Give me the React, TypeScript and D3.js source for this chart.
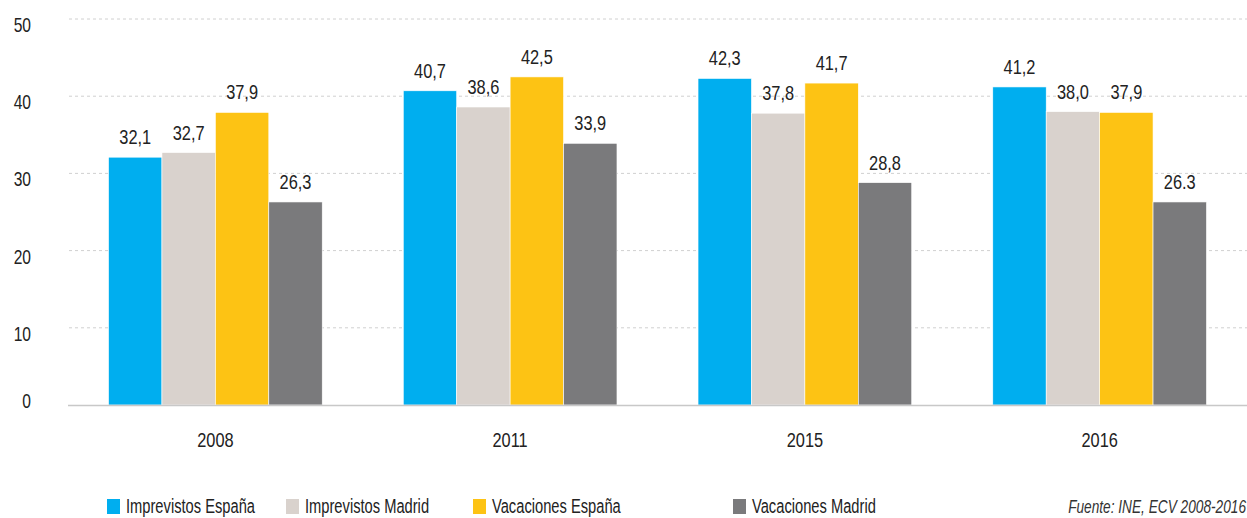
import React from 'react';
import * as d3 from 'd3';

const years = ['2008', '2011', '2015', '2016'];
const seriesNames = ['Imprevistos España', 'Imprevistos Madrid', 'Vacaciones España', 'Vacaciones Madrid'];
const seriesColors = ['#00AEEF', '#D9D2CD', '#FDC314', '#7A7A7C'];
const imprevistosEspana = [32.1, 40.7, 42.3, 41.2];
const imprevistosMadrid = [32.7, 38.6, 37.8, 38.0];
const vacacionesEspana = [37.9, 42.5, 41.7, 37.9];
const vacacionesMadrid = [26.3, 33.9, 28.8, 26.3];
// labels as printed in the source (note the last one uses a dot)
const valueLabels = [
  ['32,1', '40,7', '42,3', '41,2'],
  ['32,7', '38,6', '37,8', '38,0'],
  ['37,9', '42,5', '41,7', '37,9'],
  ['26,3', '33,9', '28,8', '26.3'],
];
const yTicks = [0, 10, 20, 30, 40, 50];
const source = 'Fuente: INE, ECV 2008-2016';

const W = 1247;
const H = 518;
const FONT = '"Liberation Sans", Arial, sans-serif';

// condensed text helper: squeeze Liberation Sans horizontally
function T({ x, y, anchor = 'start', size = 21, sx = 0.78, italic = false, fill = '#222', children }:
  { x: number; y: number; anchor?: string; size?: number; sx?: number; italic?: boolean; fill?: string; children: React.ReactNode }) {
  return (
    <text transform={`translate(${x},${y}) scale(${sx},1)`} textAnchor={anchor}
      fontSize={size} fontStyle={italic ? 'italic' : 'normal'} fill={fill}>{children}</text>
  );
}

export default function App() {
  const series = [imprevistosEspana, imprevistosMadrid, vacacionesEspana, vacacionesMadrid];
  const left = 68;
  const right = W;

  const x = d3.scaleBand<string>()
    .domain(years)
    .range([left, right])
    .paddingInner(0.275)
    .paddingOuter(0.1375);

  const xs = d3.scaleBand<number>()
    .domain(d3.range(series.length))
    .range([0, x.bandwidth()]);

  const y = d3.scaleLinear().domain([0, 50]).range([405, 19]);

  const legendX = [107, 286, 473, 733];

  return (
    <svg width={W} height={H} style={{ position: 'absolute', left: 0, top: 0, background: '#fff' }}
      fontFamily={FONT}>
      {/* gridlines */}
      {yTicks.filter(t => t > 0).map(t => (
        <line key={t} x1={left + 1} x2={right} y1={y(t)} y2={y(t)}
          stroke="#d0d0d0" strokeWidth={1} strokeDasharray="3,3" />
      ))}
      {/* y tick labels */}
      {yTicks.map(t => (
        <T key={t} x={31} y={y(t) + (t === 0 ? 3 : 13)} anchor="end" size={20}>{t}</T>
      ))}
      {/* bars */}
      {series.map((vals, si) => (
        <g key={si}>
          {vals.map((v, yi) => (
            <rect key={yi}
              x={x(years[yi])! + xs(si)!}
              y={y(v)}
              width={xs.bandwidth()}
              height={y(0) - y(v)}
              fill={seriesColors[si]}
              stroke="#fff" strokeWidth={0.6} />
          ))}
        </g>
      ))}
      {/* value labels */}
      {series.map((vals, si) => (
        <g key={'l' + si}>
          {vals.map((v, yi) => (
            <T key={yi}
              x={x(years[yi])! + xs(si)! + xs.bandwidth() / 2}
              y={y(v) - 13}
              anchor="middle">{valueLabels[si][yi]}</T>
          ))}
        </g>
      ))}
      {/* baseline */}
      <line x1={left} x2={right} y1={y(0) + 0.5} y2={y(0) + 0.5} stroke="#c8c8c8" strokeWidth={1.5} />
      {/* x labels */}
      {years.map(yr => (
        <T key={yr} x={x(yr)! + x.bandwidth() / 2} y={447} anchor="middle">{yr}</T>
      ))}
      {/* legend */}
      {seriesNames.map((n, i) => (
        <g key={n} transform={`translate(${legendX[i]},499)`}>
          <rect x={0} y={0} width={13} height={15} fill={seriesColors[i]} />
          <T x={19} y={14} sx={0.7}>{n}</T>
        </g>
      ))}
      <T x={1246} y={513} anchor="end" size={19} sx={0.72} italic fill="#333">{source}</T>
    </svg>
  );
}
